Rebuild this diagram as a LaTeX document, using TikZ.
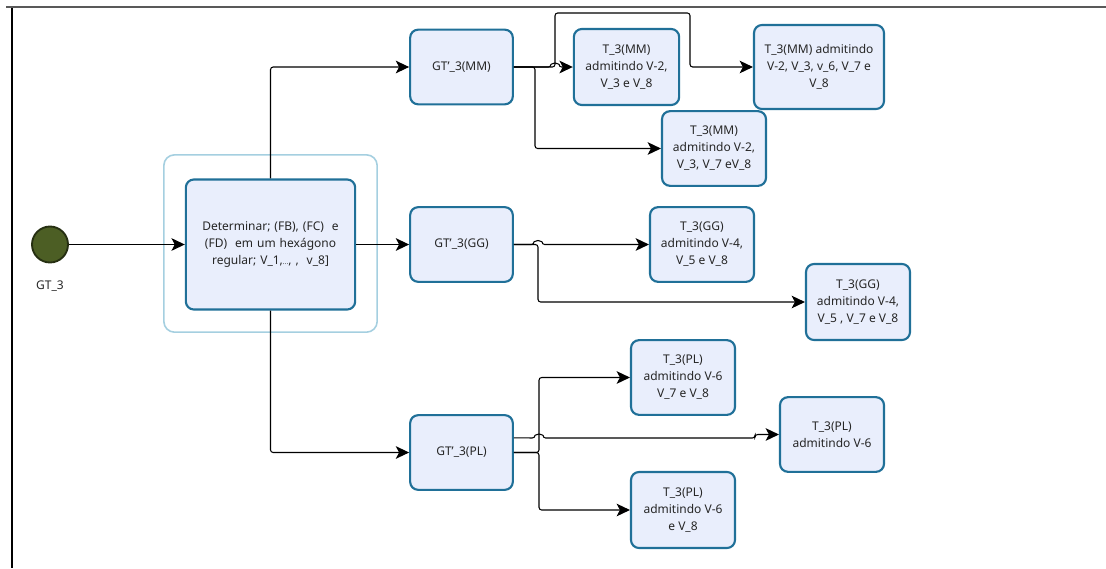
\documentclass[tikz,border=0pt]{standalone}
\usepackage{fontspec}
\setmainfont{Noto Sans}
\usepackage{tikz}
\usetikzlibrary{arrows.meta,positioning,calc}
\definecolor{taskBlue}{RGB}{233,238,252}
\definecolor{taskEdge}{RGB}{32,112,152}
\definecolor{groupEdge}{RGB}{165,207,224}
\definecolor{startOlive}{RGB}{76,94,36}

\begin{document}
\begin{tikzpicture}[x=0.75pt,y=-0.75pt,
        task/.style={rounded corners=6pt,fill=taskBlue,draw=taskEdge,line width=1.6pt,
                     font=\fontsize{9}{12.75}\selectfont,text=black!85,align=center,
                     inner sep=2pt,minimum width=78pt,minimum height=56pt},
        flow/.style={draw=black,line width=0.8pt,rounded corners=2pt,
                     -{Stealth[length=10pt,width=9.5pt,inset=2.5pt]}}]
    \useasboundingbox (0,0) rectangle (1106,568);

    % page frame
    \draw[black!65,line width=1.5pt] (6,7) -- (1106,7);
    \draw[black,line width=1.1pt] (12,8) -- (12,568);

    % start event
    \node[circle,fill=startOlive,draw=startOlive!50!black,line width=1.4pt,minimum size=27pt] (start) at (50,244.5) {};
    \node[font=\fontsize{9}{12.75}\selectfont,text=black!85] (startlbl) at (50,286) {GT\_3};

    % main task with its group frame
    \node[rounded corners=8pt,draw=groupEdge,line width=1.2pt,minimum width=160pt,minimum height=133pt] (grp) at (270.5,243.5) {};
    \node[task,minimum width=127pt,minimum height=97.5pt,text width=120pt] (main) at (270.5,244.5)
        {Determinar; (FB), (FC)\ \ e\\ (FD)\ \ em um hexágono\\ regular; V\_1,{\tiny...}, ,\ \ v\_8]};

    \node[task,minimum width=77pt] (mm) at (461.5,67) {GT'\_3(MM)};
    \node[task,minimum width=77pt] (gg) at (461.5,244.5) {GT'\_3(GG)};
    \node[task,minimum width=77pt] (pl) at (461.5,452.5) {GT'\_3(PL)};

    \node[task,minimum width=79pt,minimum height=57pt] (mm1) at (626.5,67) {T\_3(MM)\\ admitindo V-2,\\ V\_3 e V\_8};
    \node[task,minimum width=97.5pt,minimum height=63pt] (mm2) at (819,67) {T\_3(MM) admitindo\\ V-2, V\_3, v\_6, V\_7 e\\ V\_8};
    \node[task] (mm3) at (714,148.5) {T\_3(MM)\\ admitindo V-2,\\ V\_3, V\_7 eV\_8};

    \node[task] (gg1) at (702,244.5) {T\_3(GG)\\ admitindo V-4,\\ V\_5 e V\_8};
    \node[task,minimum height=57pt] (gg2) at (858,302) {T\_3(GG)\\ admitindo V-4,\\ V\_5 , V\_7 e V\_8};

    \node[task] (pl1) at (683,377.5) {T\_3(PL)\\ admitindo V-6\\ V\_7 e V\_8};
    \node[task] (pl2) at (832,434.5) {T\_3(PL)\\ admitindo V-6};
    \node[task,minimum height=57pt] (pl3) at (683,510) {T\_3(PL)\\ admitindo V-6\\ e V\_8};

    % connectors
    \draw[flow] (start) -- (main);
    \draw[flow] (main.north) |- (mm.west);
    \draw[flow] (main.east) -- (gg.west);
    \draw[flow] (main.south) |- (pl.west);

    \draw[flow] (mm.east) -- (551,67) arc[start angle=180,end angle=360,radius=4] -- (mm1.west);
    \draw[flow] (mm.east) -- (535,67) |- (mm3.west);
    \draw[flow] (mm.east) -- (555,67) -- (555,13) -- (690,13) |- (mm2.west);

    \draw[flow] (gg.east) -- (534,244.5) arc[start angle=180,end angle=360,radius=4] -- (gg1.west);
    \draw[flow] (gg.east) -- (538,244.5) |- (gg2.west);

    \draw[flow] (pl.east) -- (539,452.5) |- (pl1.west);
    \draw[flow] (pl.east) -- (539,452.5) |- (pl3.west);
    \draw[flow] ([yshift=11pt]pl.east) -- (535,438) arc[start angle=180,end angle=360,radius=4]
        -- (755,438) -- (755,434.5) -- (pl2.west);
\end{tikzpicture}
\end{document}
